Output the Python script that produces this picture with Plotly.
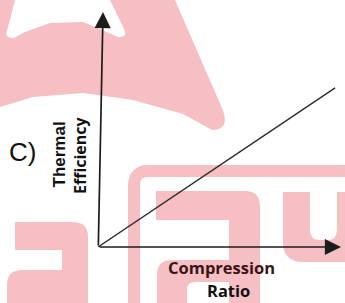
import plotly.graph_objects as go

# ---- data ----
compression_ratio = [0, 9.6]
thermal_efficiency = [0, 6.44]
x_label_lines = ["Compression", "Ratio"]
y_label_lines = ["Thermal", "Efficiency"]
panel_label = "C)"

W, H = 345, 303
L, B = 98, 56
PW, PH = W - L, H - B
PINK = "#f5bfc4"


def px(x, y):
    return f"{(x - L) / PW:.4f},{(PH - y) / PH:.4f}"


def path(cmds):
    out = []
    for c in cmds:
        if isinstance(c, str):
            out.append(c)
        else:
            out.append(" ".join(px(*p) for p in c))
    return " ".join(out)


shapes = []


def add(p, fill=PINK, line=None, lw=0):
    d = dict(type="path", xref="paper", yref="paper", path=p, layer="below",
             fillcolor=fill if fill else "rgba(0,0,0,0)",
             line=dict(width=lw, color=line if line else "rgba(0,0,0,0)"))
    shapes.append(d)


# watermark (decoration)
add(path(["M", [(0, 0)], "L", [(175, 0)], "L", [(222, 108)], "Q", [(231, 130), (212, 130)],
          "L", [(183, 114)], "L", [(133, 100)], "L", [(83, 93)], "L", [(33, 97)], "L", [(0, 107)], "Z"]))
add(path(["M", [(15, 0)], "L", [(110, 0)], "L", [(124, 29)], "Q", [(128, 38), (118, 37)],
          "L", [(100, 29)], "L", [(83, 22)], "L", [(50, 23)], "L", [(25, 32)], "L", [(14, 38)],
          "Q", [(4, 38), (7, 31)], "Z"]), fill="white")
add(path(["M", [(134, 320)], "L", [(134, 186)], "Q", [(134, 171), (148, 171)], "L", [(370, 171)]]),
    fill=None, line=PINK, lw=12)
# left letter
add(path(["M", [(15, 222)], "L", [(73, 222)], "Q", [(88, 222), (88, 237)], "L", [(88, 310)],
          "L", [(62, 310)], "L", [(62, 250)], "L", [(15, 250)], "Z"]))
add(path(["M", [(7, 285)], "Q", [(7, 270), (22, 270)], "L", [(62, 270)], "L", [(62, 310)], "L", [(7, 310)], "Z"]))
# middle letter
add(path(["M", [(156, 191)], "L", [(245, 191)], "Q", [(260, 191), (260, 206)], "L", [(260, 310)],
          "L", [(229, 310)], "L", [(229, 220)], "L", [(156, 220)], "Z"]))
add(path(["M", [(157, 275)], "Q", [(157, 260), (172, 260)], "L", [(229, 260)], "L", [(229, 310)], "L", [(157, 310)], "Z"]))
add(path(["M", [(187, 310)], "L", [(187, 290)], "Q", [(187, 282), (195, 282)], "L", [(229, 282)], "L", [(229, 310)], "Z"]),
    fill="white")
# right letter
add(path(["M", [(283, 192)], "L", [(310, 192)], "L", [(310, 230)], "Q", [(310, 240), (320, 240)],
          "L", [(327, 240)], "Q", [(337, 240), (337, 230)], "L", [(337, 192)], "L", [(360, 192)],
          "L", [(360, 262)], "L", [(303, 262)], "Q", [(283, 262), (283, 242)], "Z"]))

fig = go.Figure()
fig.add_trace(go.Scatter(x=compression_ratio, y=thermal_efficiency, mode="lines",
                         line=dict(color="#2b2b2b", width=1.4), hoverinfo="skip", showlegend=False))

ann = []
# axes arrows
ann.append(dict(xref="paper", yref="paper", x=(341 - L) / PW, y=0, ax=-(341 - L), ay=0,
                showarrow=True, arrowhead=2, arrowsize=1.9, arrowwidth=1.7, arrowcolor="#1c1c1c",
                text="", standoff=0))
ann.append(dict(xref="paper", yref="paper", x=(103 - L) / PW, y=(PH - 12) / PH, ax=-4.7, ay=PH - 12,
                showarrow=True, arrowhead=2, arrowsize=1.9, arrowwidth=1.7, arrowcolor="#1c1c1c",
                text="", standoff=0))
# labels
ann.append(dict(xref="paper", yref="paper", x=(22.5 - L) / PW, y=(PH - 152) / PH, text=panel_label,
                showarrow=False, font=dict(family="Liberation Sans, Arial", size=26, color="#111"),
                xanchor="center", yanchor="middle"))
ann.append(dict(xref="paper", yref="paper", x=(58.5 - L) / PW, y=(PH - 155) / PH, text=f"<b>{y_label_lines[0]}</b>",
                showarrow=False, textangle=-90,
                font=dict(family="Liberation Sans, Arial", size=17, color="#111"),
                xanchor="center", yanchor="middle"))
ann.append(dict(xref="paper", yref="paper", x=(80 - L) / PW, y=(PH - 155) / PH, text=f"<b>{y_label_lines[1]}</b>",
                showarrow=False, textangle=-90,
                font=dict(family="Open Sans", size=16, color="#111"),
                xanchor="center", yanchor="middle"))
ann.append(dict(xref="paper", yref="paper", x=(221.5 - L) / PW, y=(PH - 267) / PH, text=f"<b>{x_label_lines[0]}</b>",
                showarrow=False, font=dict(family="Open Sans", size=16.5, color="#3a1518"),
                xanchor="center", yanchor="middle"))
ann.append(dict(xref="paper", yref="paper", x=(228 - L) / PW, y=(PH - 290) / PH, text=f"<b>{x_label_lines[1]}</b>",
                showarrow=False, font=dict(family="Open Sans", size=16.5, color="#111"),
                xanchor="center", yanchor="middle"))

fig.update_layout(
    width=W, height=H, margin=dict(l=L, r=0, t=0, b=B),
    paper_bgcolor="white", plot_bgcolor="rgba(0,0,0,0)",
    xaxis=dict(range=[0, 10], visible=False, fixedrange=True),
    yaxis=dict(range=[0, 10], visible=False, fixedrange=True),
    shapes=shapes, annotations=ann, showlegend=False,
)

fig.write_html("out.html", config={"displayModeBar": False},
               post_script="document.body.style.margin='0';document.body.style.overflow='hidden';")
